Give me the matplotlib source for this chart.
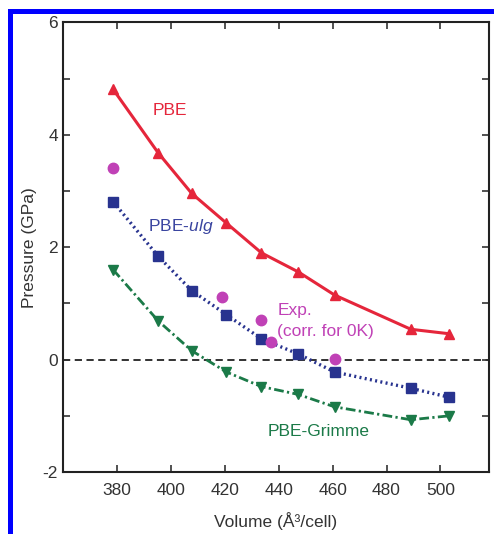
import matplotlib
matplotlib.use('Agg')
import matplotlib.pyplot as plt
from matplotlib.patches import Rectangle

plt.rcParams['font.family'] = ['Liberation Sans', 'DejaVu Sans']
plt.rcParams['axes.unicode_minus'] = False
plt.rcParams['mathtext.fontset'] = 'custom'
plt.rcParams['mathtext.rm'] = 'Liberation Sans'
plt.rcParams['mathtext.it'] = 'Liberation Sans:italic'

# volumes (A^3/cell) and pressures (GPa)
vol = [378.6, 395.3, 407.7, 420.6, 433.6, 447.3, 460.7, 489.0, 503.3]
p_pbe = [4.81, 3.68, 2.96, 2.43, 1.90, 1.56, 1.15, 0.54, 0.46]
p_ulg = [2.81, 1.84, 1.23, 0.80, 0.37, 0.10, -0.22, -0.51, -0.67]
p_grimme = [1.60, 0.69, 0.16, -0.22, -0.48, -0.62, -0.84, -1.07, -1.00]

vol_exp = [378.6, 419.1, 433.6, 437.0, 460.7]
p_exp = [3.41, 1.11, 0.71, 0.31, 0.01]

xticks = [380, 400, 420, 440, 460, 480, 500]
yticks = [-2, 0, 2, 4, 6]

red = '#e5263b'
blue = '#28338f'
green = '#1b7a48'
magenta = '#c041b6'

fig = plt.figure(figsize=(4.94, 5.34), dpi=100)
ax = fig.add_axes([0.1275, 0.1161, 0.8624, 0.8418])

ax.axhline(0, color='#222222', lw=1.3, ls=(0, (4, 2.5)), zorder=1)
ax.plot(vol, p_pbe, color=red, lw=2.2, marker='^', ms=7.5, zorder=3)
ax.plot(vol, p_ulg, color=blue, lw=2.4, ls=(0, (0.6, 1.0)), marker='s', ms=7.5, zorder=3)
ax.plot(vol, p_grimme, color=green, lw=2.0, ls=(0, (3.5, 1.2, 0.8, 1.2)), marker='v', ms=7.5, zorder=3)
ax.plot(vol_exp, p_exp, ls='none', marker='o', color=magenta, ms=7.5, zorder=4)

ax.text(399.5, 4.43, 'PBE', color=red, fontsize=12.5, ha='center', va='center')
ax.text(391.5, 2.37, 'PBE-$\\it{ulg}$', color='#3a45a0', fontsize=12.5, ha='left', va='center')
ax.text(439.5, 0.69, 'Exp.\n(corr. for 0K)', color=magenta, fontsize=12.5, ha='left',
        va='center', linespacing=1.45)
ax.text(436, -1.28, 'PBE-Grimme', color=green, fontsize=12.5, ha='left', va='center')

ax.set_xlim(360, 518)
ax.set_ylim(-2, 6)
ax.set_xticks(xticks)
ax.set_yticks(yticks)
ax.set_yticks([-1, 1, 3, 5], minor=True)
ax.tick_params(which='both', direction='in', top=True, right=True, length=5, width=1.2,
               labelsize=12.5, colors='#333333', labelcolor='#333333')
ax.tick_params(axis='x', pad=8)
for s in ax.spines.values():
    s.set_linewidth(1.5)
    s.set_color('#222222')

ax.set_xlabel('Volume (Å³/cell)', fontsize=12.5, color='#333333', labelpad=10)
ax.set_ylabel('Pressure (GPa)', fontsize=12.5, color='#333333', labelpad=4)

# blue frame on left and top edges
fig.add_artist(Rectangle((8 / 494, 0), 5 / 494, 525 / 534, transform=fig.transFigure,
                         color='#0000ff', lw=0))
fig.add_artist(Rectangle((8 / 494, 520 / 534), 486 / 494, 5 / 534, transform=fig.transFigure,
                         color='#0000ff', lw=0))

fig.savefig('out.png', dpi=100)
